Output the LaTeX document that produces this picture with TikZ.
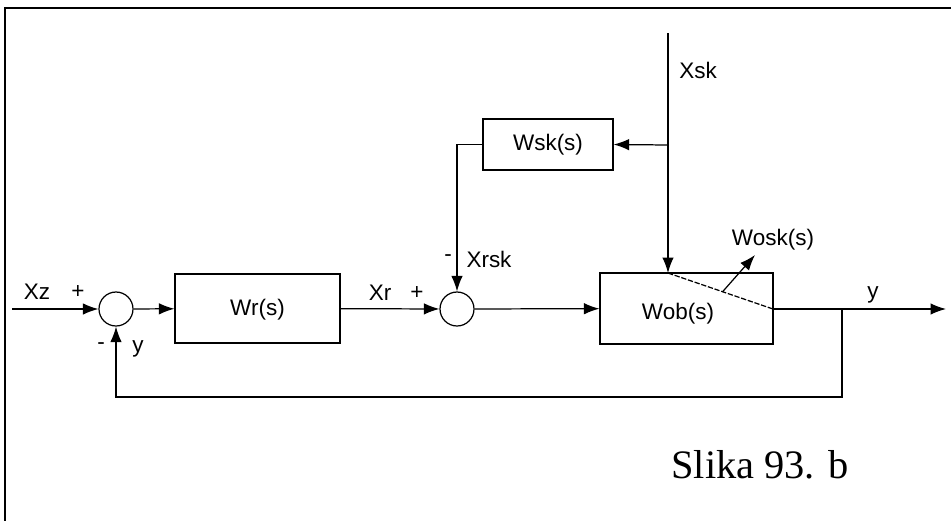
\documentclass[tikz,border=0pt]{standalone}
\usepackage{fontspec}
\setmainfont{Liberation Sans}
\newfontfamily\capfont{Liberation Serif}
\usetikzlibrary{arrows.meta}
\tikzset{
  blk/.style={draw, line width=0.7pt, rectangle, inner sep=0pt},
  sumnode/.style={draw, line width=0.7pt, circle, minimum size=0.68cm, inner sep=0pt},
  sig/.style={line width=0.7pt, -{Latex[length=0.31cm, width=0.23cm]}},
  wire/.style={line width=0.7pt},
  lbl/.style={font=\fontsize{12.8}{14}\selectfont, inner sep=0pt}
}
\begin{document}
\begin{tikzpicture}[x=0.02cm, y=-0.02cm]
\useasboundingbox (0,0) rectangle (951,521);
% frame
\draw[line width=1.4pt] (5,521) -- (5,8) -- (951,8);
% blocks
\node[sumnode] (sum1) at (116,309) {};
\node[blk, minimum width=3.3cm, minimum height=1.38cm] (wr) at (257.5,308.5) {};
\node[lbl] (wrt) at (257.5,310) {Wr(s)};
\node[sumnode] (sum2) at (457,309) {};
\node[blk, minimum width=3.46cm, minimum height=1.42cm] (wob) at (686.5,308.5) {};
\node[lbl] (wobt) at (678,314) {Wob(s)};
\node[blk, minimum width=2.6cm, minimum height=1.02cm] (wsk) at (548,144.5) {};
\node[lbl] (wskt) at (548,145) {Wsk(s)};
% points
\coordinate (in) at (12,309);
\coordinate (xsktop) at (668,33);
\coordinate (xskbr) at (668,145);
\coordinate (xskin) at (668,273);
\coordinate (wobout) at (773,309);
\coordinate (fb) at (842,309);
\coordinate (out) at (946,309);
\coordinate (woskend) at (755,255);
% signals
\draw[sig] (in) -- (sum1);
\draw[sig] (sum1) -- (wr);
\draw[sig] (wr) -- (sum2);
\draw[sig] (sum2) -- (wob);
\draw[sig] (xsktop) -- (xskin);
\draw[sig] (xskbr) -- (wsk.east);
\draw[sig] (wsk.west) -| (sum2.north);
\draw[wire, dashed, dash pattern=on 3pt off 1pt] (xskin) -- (wobout) coordinate[pos=0.52] (woskst);
\draw[sig] (woskst) -- (woskend);
\draw[sig] (wobout) -- (out);
\draw[sig] (fb) |- (116,397) -- (sum1.south);
% labels
\node[lbl] (xz) at (37,292) {Xz};
\node[lbl] (p1) at (78,292) {+};
\node[lbl] (m1) at (101,346) {-};
\node[lbl] (y1) at (138,349) {y};
\node[lbl] (xr) at (380,293) {Xr};
\node[lbl] (p2) at (417,293) {+};
\node[lbl] (m2) at (448,258) {-};
\node[lbl] (xrsk) at (489,259) {Xrsk};
\node[lbl] (xsk) at (698,70) {Xsk};
\node[lbl] (wosk) at (773,240) {Wosk(s)};
\node[lbl] (y2) at (873,295) {y};
\node[font=\capfont\fontsize{23}{26}\selectfont, inner sep=0pt] (cap) at (760,465) {Slika 93. b};
\end{tikzpicture}
\end{document}
